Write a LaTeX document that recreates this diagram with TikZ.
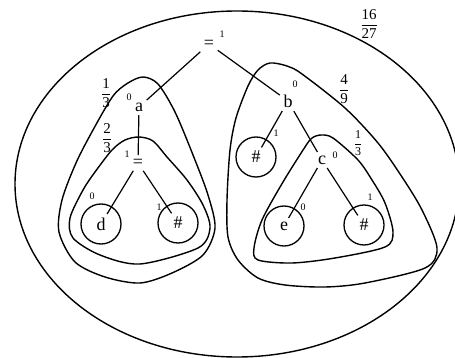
\documentclass[tikz,border=0pt]{standalone}
\usepackage{fontspec}
\setmainfont{Liberation Serif}
\usetikzlibrary{positioning}
\newcommand{\wfrac}[2]{$\displaystyle\frac{\textrm{#1}}{\textrm{#2}}$}
\tikzset{
  lab/.style={inner sep=3.5pt, font=\fontsize{18}{20}\selectfont},
  idx/.style={inner sep=0pt, font=\fontsize{10}{12}\selectfont},
  frc/.style={inner sep=0pt, font=\fontsize{15}{18}\selectfont},
  sfrc/.style={inner sep=0pt, font=\fontsize{12}{14}\selectfont},
  edge/.style={line width=1.2pt},
  ring/.style={line width=1.3pt},
  blob/.style={line width=1.4pt},
}

\begin{document}
\begin{tikzpicture}[x=1pt, y=-1pt]
\useasboundingbox (0,0) rectangle (455,358);
\draw[blob] (237,184) ellipse [x radius=222, y radius=173];
\draw[blob] plot[smooth cycle] coordinates {(143,77) (158,84) (175,112) (193,155) (208,195) (215,228) (203,255) (172,273) (140,283) (105,277) (75,262) (59,232) (62,200) (76,163) (93,130) (113,96) (128,83)};
\draw[blob] plot[smooth cycle] coordinates {(139,137) (153,141) (167,157) (187,180) (203,205) (210,228) (198,248) (140,264) (100,255) (73,238) (70,218) (83,190) (95,172) (112,150) (125,140)};
\draw[blob] plot[smooth cycle] coordinates {(270,63) (287,66) (302,74) (345,108) (378,143) (402,177) (422,210) (437,248) (425,268) (365,283) (325,287) (285,285) (258,278) (238,260) (228,237) (227,200) (230,150) (236,118) (248,86) (258,70)};
\draw[blob] plot[smooth cycle] coordinates {(321,135) (333,138) (358,160) (372,180) (385,203) (393,232) (385,247) (335,258) (292,263) (258,260) (254,248) (262,220) (283,182) (305,147) (312,138)};
\node[lab] (eqt) at (209,44) {=};
\node[idx] (ieqt) at (222,34) {1};
\node[lab] (a) at (139,107) {a};
\node[idx] (ia) at (129,97) {0};
\node[lab] (eqa) at (138,163) {=};
\node[idx] (ieqa) at (127,154) {1};
\node[lab] (d) at (101,224) {d};
\node[idx] (id) at (92,196) {0};
\node[lab] (h1) at (178,223) {\#};
\node[idx] (ih1) at (159,207) {1};
\node[lab] (b) at (288,101) {b};
\node[idx] (ib) at (295,84) {0};
\node[lab] (h2) at (256,157) {\#};
\node[idx] (ih2) at (276,133) {1};
\node[lab] (c) at (322,160) {c};
\node[idx] (ic) at (335,155) {0};
\node[lab] (e) at (284,226) {e};
\node[idx] (ie) at (303,207) {0};
\node[lab] (h3) at (364,225) {\#};
\node[idx] (ih3) at (370,197) {1};
\node[frc] (f1) at (369,24) {\wfrac{16}{27}};
\node[frc] (f2) at (106,93) {\wfrac{1}{3}};
\node[frc] (f3) at (107,138) {\wfrac{2}{3}};
\node[frc] (f4) at (344,89) {\wfrac{4}{9}};
\node[sfrc] (f5) at (358,143) {\wfrac{1}{3}};
\draw[ring] (d) circle [radius=20];
\draw[ring] (h1) circle [radius=20];
\draw[ring] (h2) circle [radius=20];
\draw[ring] (e) circle [radius=20];
\draw[ring] (h3) circle [radius=20];
\draw[edge] (eqt) -- (a);
\draw[edge] (eqt) -- (b);
\draw[edge] (a) -- (eqa);
\draw[edge] (eqa) -- (d);
\draw[edge] (eqa) -- (h1);
\draw[edge] (b) -- (h2);
\draw[edge] (b) -- (c);
\draw[edge] (c) -- (e);
\draw[edge] (c) -- (h3);
\end{tikzpicture}
\end{document}
